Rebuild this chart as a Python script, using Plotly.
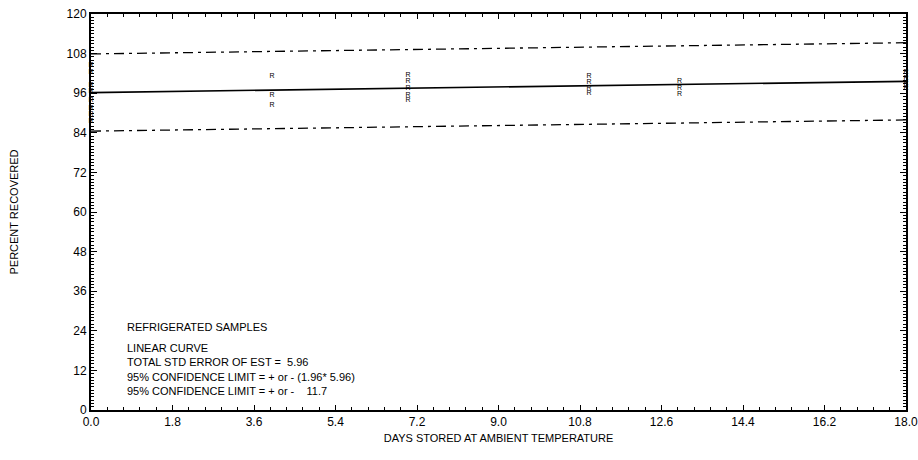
import plotly.graph_objects as go

# Recovery measurements (percent) by storage day
sample_days = [0, 0, 0, 0, 0, 0, 0, 0,
               4, 4, 4,
               7, 7, 7, 7, 7,
               11, 11, 11, 11,
               13, 13, 13,
               18, 18, 18, 18]
sample_pct = [104.5, 102.5, 98.5, 96.5, 94.0, 91.5, 89.5, 87.5,
              101.2, 95.5, 92.3,
              101.5, 99.5, 97.5, 95.5, 94.0,
              101.2, 99.2, 97.5, 96.0,
              99.5, 97.5, 95.8,
              102.5, 100.5, 99.0, 97.5]

# Fitted linear curve and its 95% confidence band
fit_days = [0.0, 18.0]
fit_pct = [96.2, 99.6]
conf_limit = 11.7

x_ticks = [0.0, 1.8, 3.6, 5.4, 7.2, 9.0, 10.8, 12.6, 14.4, 16.2, 18.0]
y_ticks = [0, 12, 24, 36, 48, 60, 72, 84, 96, 108, 120]

header = "REFRIGERATED SAMPLES"
notes = [
    "LINEAR CURVE",
    "TOTAL STD ERROR OF EST =  5.96",
    "95% CONFIDENCE LIMIT = + or - (1.96* 5.96)",
    "95% CONFIDENCE LIMIT = + or -    11.7",
]

FONT = "Liberation Sans, Arial, sans-serif"
BAND_DASH = "10px,5px,3px,5px"

fig = go.Figure()

fig.add_trace(go.Scatter(
    x=fit_days, y=[v + conf_limit for v in fit_pct], mode="lines",
    line=dict(color="black", width=1.3, dash=BAND_DASH),
    hoverinfo="skip", showlegend=False))
fig.add_trace(go.Scatter(
    x=fit_days, y=[v - conf_limit for v in fit_pct], mode="lines",
    line=dict(color="black", width=1.3, dash=BAND_DASH),
    hoverinfo="skip", showlegend=False))
fig.add_trace(go.Scatter(
    x=fit_days, y=fit_pct, mode="lines",
    line=dict(color="black", width=1.7),
    showlegend=False))
fig.add_trace(go.Scatter(
    x=sample_days, y=sample_pct, mode="text", text=["R"] * len(sample_days),
    textfont=dict(family=FONT, size=7, color="black"),
    textposition="middle center", cliponaxis=False, showlegend=False))

fig.update_layout(
    width=918, height=460,
    margin=dict(l=91, r=12, t=14, b=50),
    paper_bgcolor="white", plot_bgcolor="white",
    font=dict(family=FONT, color="black", size=12),
    xaxis=dict(
        range=[0, 18], tickvals=x_ticks,
        ticktext=[f"{v:.1f}" for v in x_ticks],
        ticks="inside", ticklen=5, tickwidth=1, tickcolor="black",
        minor=dict(dtick=0.36, ticks="inside", ticklen=3, tickcolor="black"),
        showgrid=False, zeroline=False, automargin=False,
        ticklabeloverflow="allow",
        showline=True, linecolor="black", linewidth=2, mirror="ticks",
        tickfont=dict(size=12),
        title=dict(text="DAYS STORED AT AMBIENT TEMPERATURE",
                   font=dict(size=11), standoff=6),
    ),
    yaxis=dict(
        range=[0, 120], tickvals=y_ticks,
        ticks="inside", ticklen=6, tickwidth=1, tickcolor="black",
        minor=dict(dtick=1, ticks="inside", ticklen=3, tickcolor="black"),
        showgrid=False, zeroline=False, automargin=False,
        ticklabeloverflow="allow",
        showline=True, linecolor="black", linewidth=2, mirror="ticks",
        tickfont=dict(size=12),
        title=dict(text="PERCENT RECOVERED", font=dict(size=11), standoff=46),
    ),
)

fig.add_annotation(
    xref="paper", yref="paper", x=0.042, y=0.2096, xanchor="left", yanchor="middle",
    text=header, showarrow=False, align="left",
    font=dict(family=FONT, size=11, color="black"))
fig.add_annotation(
    xref="paper", yref="paper", x=0.042, y=0.1035, xanchor="left", yanchor="middle",
    text="<br>".join(notes), showarrow=False, align="left",
    font=dict(family=FONT, size=11, color="black"))

fig.write_html("out.html")
